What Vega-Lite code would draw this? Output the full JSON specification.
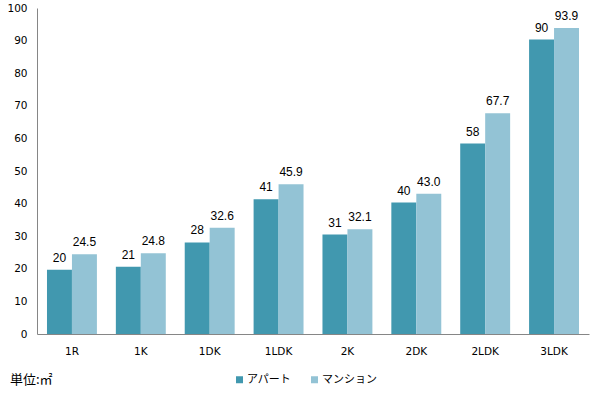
{
  "$schema": "https://vega.github.io/schema/vega-lite/v6.json",
  "width": 552,
  "height": 326,
  "autosize": "none",
  "padding": {"left": 37, "top": 8, "right": 11, "bottom": 59},
  "config": {
    "view": {"stroke": null},
    "font": "DejaVu Sans",
    "axis": {"labelColor": "#000000", "labelFont": "DejaVu Sans", "labelFontSize": 10.5, "domainColor": "#868686", "ticks": false, "grid": false, "title": null}
  },
  "title": {
    "text": "単位:㎡",
    "orient": "bottom",
    "anchor": "start",
    "frame": "group",
    "font": "Noto Sans CJK JP",
    "fontSize": 13,
    "fontWeight": "normal",
    "color": "#000000",
    "dx": -27,
    "dy": -21,
    "offset": 10
  },
  "data": {
    "values": [
      {"type": "1R", "kind": "アパート", "value": 19.7, "label": "20"},
      {"type": "1R", "kind": "マンション", "value": 24.5, "label": "24.5"},
      {"type": "1K", "kind": "アパート", "value": 20.6, "label": "21"},
      {"type": "1K", "kind": "マンション", "value": 24.8, "label": "24.8"},
      {"type": "1DK", "kind": "アパート", "value": 28.1, "label": "28"},
      {"type": "1DK", "kind": "マンション", "value": 32.6, "label": "32.6"},
      {"type": "1LDK", "kind": "アパート", "value": 41.3, "label": "41"},
      {"type": "1LDK", "kind": "マンション", "value": 45.9, "label": "45.9"},
      {"type": "2K", "kind": "アパート", "value": 30.5, "label": "31"},
      {"type": "2K", "kind": "マンション", "value": 32.1, "label": "32.1"},
      {"type": "2DK", "kind": "アパート", "value": 40.3, "label": "40"},
      {"type": "2DK", "kind": "マンション", "value": 43.0, "label": "43.0"},
      {"type": "2LDK", "kind": "アパート", "value": 58.4, "label": "58"},
      {"type": "2LDK", "kind": "マンション", "value": 67.7, "label": "67.7"},
      {"type": "3LDK", "kind": "アパート", "value": 90.3, "label": "90"},
      {"type": "3LDK", "kind": "マンション", "value": 93.9, "label": "93.9"}
    ]
  },
  "encoding": {
    "x": {
      "field": "type",
      "type": "nominal",
      "sort": ["1R", "1K", "1DK", "1LDK", "2K", "2DK", "2LDK", "3LDK"],
      "scale": {"paddingInner": 0.275, "paddingOuter": 0.145},
      "axis": {"labelAngle": 0, "labelPadding": 12}
    },
    "xOffset": {"field": "kind", "type": "nominal", "sort": ["アパート", "マンション"]},
    "y": {
      "field": "value",
      "type": "quantitative",
      "scale": {"domain": [0, 100], "nice": false},
      "axis": {"values": [0, 10, 20, 30, 40, 50, 60, 70, 80, 90, 100], "labelPadding": 10}
    }
  },
  "layer": [
    {
      "mark": {"type": "bar"},
      "encoding": {
        "color": {
          "field": "kind",
          "type": "nominal",
          "sort": ["アパート", "マンション"],
          "scale": {"domain": ["アパート", "マンション"], "range": ["#4198AF", "#93C3D5"]},
          "legend": {
            "title": null,
            "orient": "none",
            "direction": "horizontal",
            "legendX": 197,
            "legendY": 366,
            "symbolType": "square",
            "symbolSize": 49,
            "symbolStrokeWidth": 0,
            "labelFont": "Noto Sans CJK JP",
            "labelFontSize": 11,
            "labelColor": "#000000",
            "labelOffset": 2,
            "columnPadding": 18
          }
        }
      }
    },
    {
      "mark": {"type": "text", "baseline": "bottom", "dy": -5, "font": "Liberation Sans", "fontSize": 12, "color": "#000000"},
      "encoding": {"text": {"field": "label"}}
    }
  ]
}
